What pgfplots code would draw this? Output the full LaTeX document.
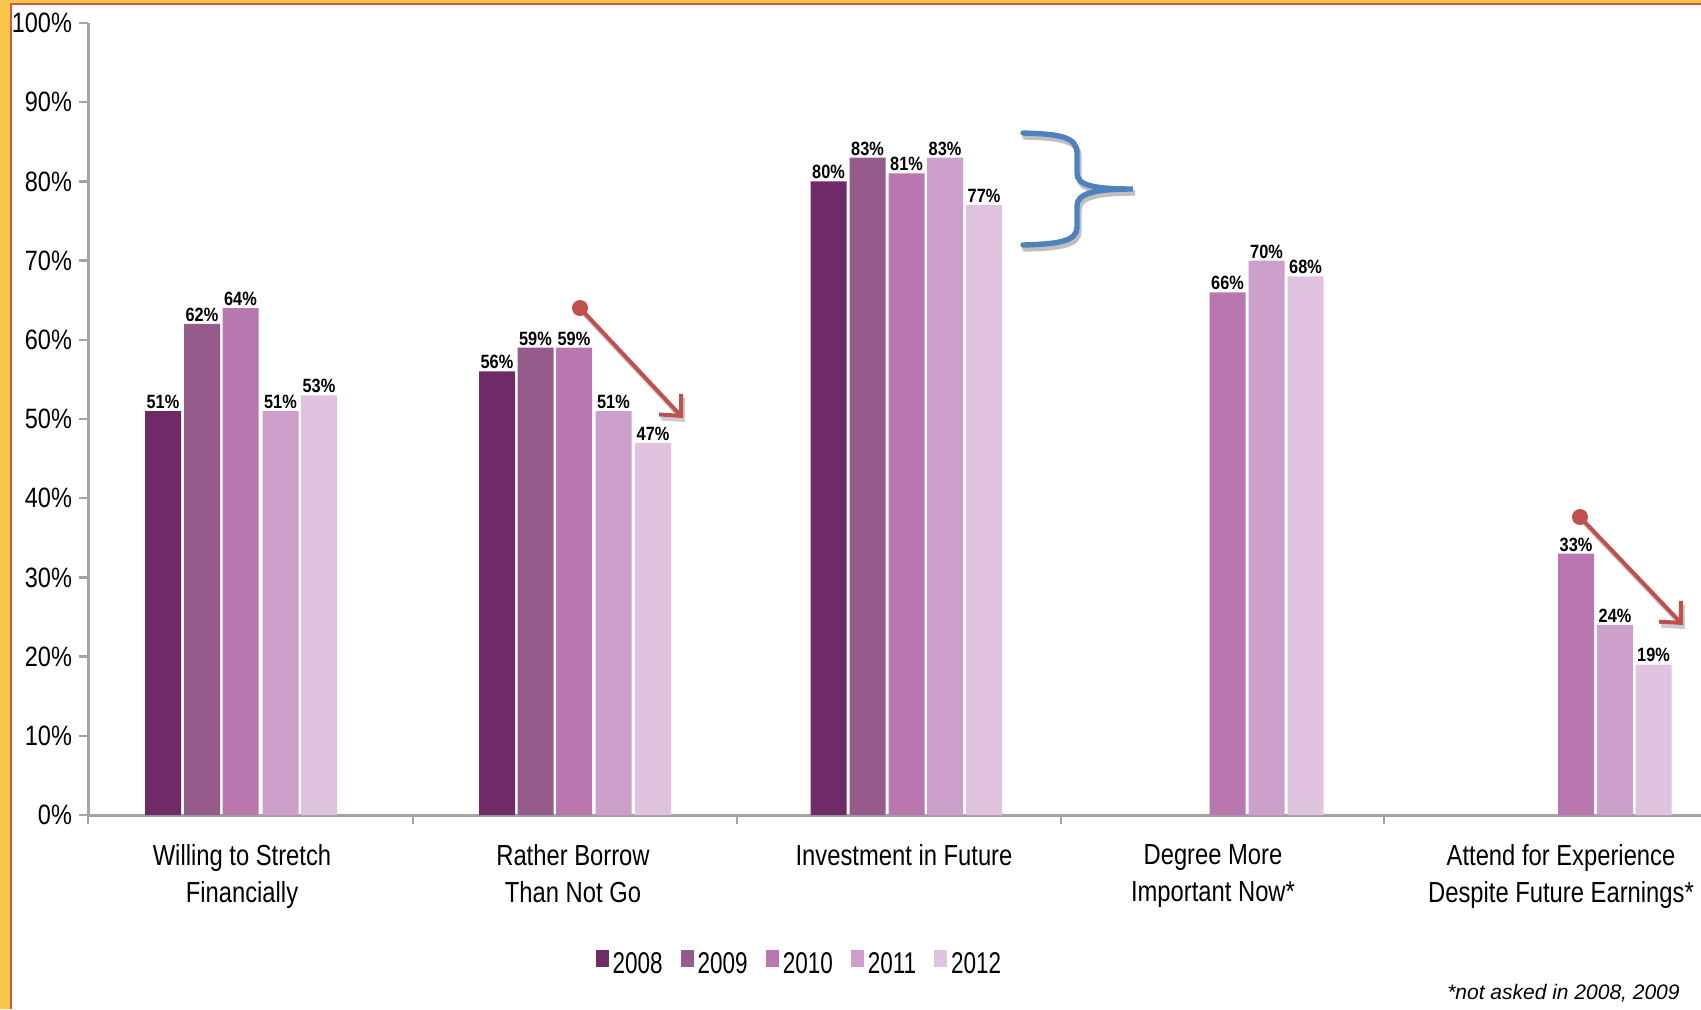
\documentclass[border=0pt]{standalone}
\usepackage{fontspec}
\setmainfont{Liberation Sans}
\newfontfamily\narrowfont[FakeStretch=0.82]{Liberation Sans}
\newfontfamily\tickfont[FakeStretch=0.84]{Liberation Sans}
\newfontfamily\legfont[FakeStretch=0.75]{Liberation Sans}
\newfontfamily\lblfont[FakeStretch=0.85]{Liberation Sans}
\usepackage{pgfplots}
\pgfplotsset{compat=1.18}
\usetikzlibrary{arrows.meta}
\definecolor{c08}{HTML}{6F2A68}
\definecolor{c09}{HTML}{955B8A}
\definecolor{c10}{HTML}{B878AF}
\definecolor{c11}{HTML}{CCA0CB}
\definecolor{c12}{HTML}{DFC3DF}
\definecolor{axisgray}{HTML}{A5A29F}
\definecolor{bgyellow}{HTML}{F9C84A}
\definecolor{borderred}{HTML}{D0564A}
\definecolor{arrowred}{HTML}{C0504D}
\definecolor{braceblue}{HTML}{4F81BD}
\pgfplotsset{
  sqlegend/.style={legend image code/.code={\fill[##1] (0pt,-1pt) rectangle (6.5pt,7.5pt);}},
  mybar/.style={ybar, bar width=36, bar shift=0pt, draw=none, fill=#1,
    nodes near coords={\pgfmathprintnumber{\pgfplotspointmeta}\%},
    every node near coord/.append style={font=\lblfont\bfseries\fontsize{9.6}{10}\selectfont, inner sep=1pt, anchor=south, text=black},
    sqlegend},
}
\begin{document}
\begin{tikzpicture}
\useasboundingbox (0,0) rectangle (850.5pt,-504.5pt);
\fill[bgyellow] (0,0) rectangle (850.5pt,-504.5pt);
\begin{scope}[x=0.5pt,y=-0.5pt]
\fill[white] (11,4) rectangle (1701,1009);
\draw[borderred, line width=0.6pt] (11,1009) -- (11,4) -- (1701,4);
\end{scope}
\begin{axis}[
  at={(44pt,-407.5pt)}, anchor=south west,
  scale only axis, width=806.5pt, height=396pt,
  xmin=88, xmax=1701, ymin=0, ymax=100,
  clip=false,
  axis x line*=bottom, axis y line*=left,
  axis line style={draw=axisgray, line width=1.5pt},
  /pgf/number format/assume math mode=true,
  tick align=outside, major tick length=4.5pt,
  ytick={0,10,20,30,40,50,60,70,80,90,100},
  yticklabels={0\%,10\%,20\%,30\%,40\%,50\%,60\%,70\%,80\%,90\%,100\%},
  yticklabel style={font={\tickfont\fontsize{14}{16}\selectfont}},
  ytick style={draw=axisgray, line width=1.2pt},
  xtick={88,413,737,1061,1384},
  xticklabels={},
  xtick style={draw=axisgray, line width=1.2pt},
  extra x ticks={242,573,904,1213,1561},
  extra x tick labels={{Willing to Stretch\\Financially},{Rather Borrow\\Than Not Go},{Investment in Future},{Degree More\\Important Now*},{Attend for Experience\\Despite Future Earnings*}},
  extra x tick style={major tick length=0pt, tick label style={align=center, font={\narrowfont\fontsize{14.5}{18.5}\selectfont}, anchor=north, yshift=-11pt}},
  legend columns=5,
  legend style={draw=none, fill=none, at={(0.4417,-0.1890)}, anchor=center,
    font={\legfont\fontsize{15}{17}\selectfont},
    /tikz/every even column/.append style={column sep=7pt}},
]
\addplot[mybar=c08] coordinates {(163,51) (497,56) (828.5,80)};
\addlegendentry{2008}
\addplot[mybar=c09] coordinates {(202,62) (535.5,59) (867.5,83)};
\addlegendentry{2009}
\addplot[mybar=c10] coordinates {(240.5,64) (574,59) (906.5,81) (1227.5,66) (1576,33)};
\addlegendentry{2010}
\addplot[mybar=c11] coordinates {(280.5,51) (613.5,51) (945,83) (1266.5,70) (1615,24)};
\addlegendentry{2011}
\addplot[mybar=c12] coordinates {(319,53) (653,47) (984,77) (1305.5,68) (1653.5,19)};
\addlegendentry{2012}
\end{axis}
\begin{scope}[x=0.5pt,y=-0.5pt]
% brace
\draw[line width=2.7pt, black!25, line cap=round, shift={(2,4)}]
 (1023,133) .. controls (1060,134) and (1077,137) .. (1077,153)
 -- (1077,173) .. controls (1077,185) and (1092,189) .. (1133,189)
 .. controls (1092,189) and (1077,194) .. (1077,206)
 -- (1077,227) .. controls (1077,241) and (1060,244) .. (1023,245);
\draw[line width=2.7pt, braceblue, line cap=round]
 (1023,133) .. controls (1060,134) and (1077,137) .. (1077,153)
 -- (1077,173) .. controls (1077,185) and (1092,189) .. (1133,189)
 .. controls (1092,189) and (1077,194) .. (1077,206)
 -- (1077,227) .. controls (1077,241) and (1060,244) .. (1023,245);
% arrows
\foreach \sx/\sy/\ex/\ey in {580/308/683/418, 1580/517/1683/625}{
  \draw[line width=2pt, black!20, -{Straight Barb[length=8pt,width=15pt]}, shift={(2,4)}] (\sx,\sy) -- (\ex,\ey);
  \draw[line width=2pt, arrowred, -{Straight Barb[length=8pt,width=15pt]}] (\sx,\sy) -- (\ex,\ey);
  \fill[arrowred] (\sx,\sy) circle (4pt);
}
\node[anchor=base east, inner sep=0pt, font=\itshape\fontsize{10.5}{12}\selectfont] at (1680,999) {*not asked in 2008, 2009};
\end{scope}
\end{tikzpicture}
\end{document}
